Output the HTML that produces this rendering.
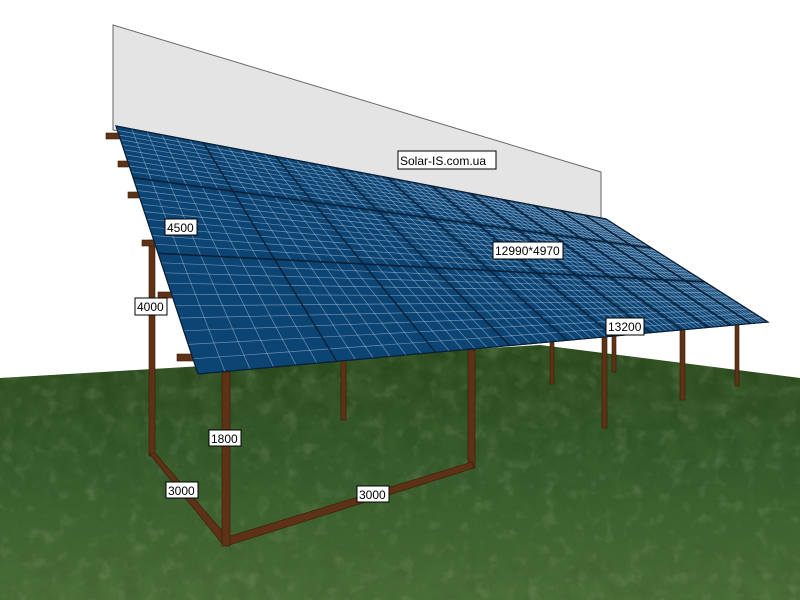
<!DOCTYPE html>
<html><head><meta charset="utf-8"><style>
html,body{margin:0;padding:0;background:#fff}
svg{display:block}
.lb{font-family:"Liberation Sans",sans-serif;font-size:12px;fill:#000}
</style></head><body>
<svg id="s" width="800" height="600" viewBox="0 0 800 600" xmlns="http://www.w3.org/2000/svg">
<defs>
<linearGradient id="gr" x1="0" y1="0" x2="0" y2="1">
<stop offset="0" stop-color="#29481b"/><stop offset="0.5" stop-color="#35592a"/><stop offset="1" stop-color="#4c6f38"/>
</linearGradient>
<filter id="nz" x="0" y="0" width="100%" height="100%">
<feTurbulence type="fractalNoise" baseFrequency="0.07" numOctaves="3" seed="4"/>
<feColorMatrix type="matrix" values="0 0 0 0 0.55  0 0 0 0 0.65  0 0 0 0 0.45  0 0 0 1.8 -0.95"/>
<feComposite in2="SourceGraphic" operator="in"/>
</filter>
<filter id="nz2" x="0" y="0" width="100%" height="100%">
<feTurbulence type="fractalNoise" baseFrequency="0.05" numOctaves="3" seed="9"/>
<feColorMatrix type="matrix" values="0 0 0 0 0.05  0 0 0 0 0.12  0 0 0 0 0.03  0 0 0 1.6 -0.5"/>
<feComposite in2="SourceGraphic" operator="in"/>
</filter>
</defs>
<rect width="800" height="600" fill="#fff"/>
<polygon points="0,378 170,368 540,345 800,378 800,600 0,600" fill="url(#gr)"/>
<polygon points="0,378 170,368 540,345 800,378 800,600 0,600" fill="#000" filter="url(#nz2)" opacity="0.8"/>
<polygon points="0,378 170,368 540,345 800,378 800,600 0,600" fill="#000" filter="url(#nz)" opacity="0.22"/>
<polygon points="113,25 601,172 601,222 113,130" fill="#e4e4e4" stroke="#666" stroke-width="1"/>
<g id="posts" fill="#5e3216" stroke="#3a1c08" stroke-width="0.6">
<rect x="341" y="360" width="5" height="60"/>
<rect x="550" y="340" width="4" height="44"/>
<rect x="612" y="336" width="4" height="36"/>
<rect x="680" y="328" width="5" height="72"/>
<rect x="735" y="324" width="4" height="62"/>
<rect x="602" y="330" width="5" height="98"/>
<rect x="468" y="350" width="7" height="118"/>
<rect x="149" y="240" width="6" height="216"/>
<polygon points="149,453 155,453 230,540 224,546"/>
<polygon points="224,538 472,462 474,468 226,546"/>
<rect x="222" y="372" width="8" height="174"/>
<rect x="106" y="133" width="14" height="6"/>
<rect x="118" y="161" width="14" height="6"/>
<rect x="128" y="192" width="14" height="6"/>
<rect x="142" y="240" width="16" height="6"/>
<rect x="158" y="292" width="16" height="6"/>
<rect x="177" y="354" width="18" height="7"/>
</g>
<g id="panel"></g>
<g>
<rect x="165" y="219" width="32" height="16" fill="#fff" stroke="#000"/><text class="lb" x="167" y="232">4500</text>
<rect x="135" y="298" width="32" height="17" fill="#fff" stroke="#000"/><text class="lb" x="137" y="311">4000</text>
<rect x="209" y="430" width="32" height="16" fill="#fff" stroke="#000"/><text class="lb" x="211" y="443">1800</text>
<rect x="166" y="482" width="32" height="16" fill="#fff" stroke="#000"/><text class="lb" x="168" y="495">3000</text>
<rect x="357" y="486" width="32" height="16" fill="#fff" stroke="#000"/><text class="lb" x="359" y="499">3000</text>
<rect x="493" y="242" width="70" height="17" fill="#fff" stroke="#000"/><text class="lb" x="495" y="255">12990*4970</text>
<rect x="606" y="318" width="38" height="17" fill="#fff" stroke="#000"/><text class="lb" x="608" y="331">13200</text>
<rect x="398" y="151" width="98" height="18" fill="#fff" stroke="#000"/><text class="lb" x="400" y="165">Solar-IS.com.ua</text>
</g>
</svg>
<script>
(function(){
var P=[[116,126],[606,219],[768,322],[198,374]];
var x0=P[0][0],y0=P[0][1],x1=P[1][0],y1=P[1][1],x2=P[2][0],y2=P[2][1],x3=P[3][0],y3=P[3][1];
var dx1=x1-x2,dx2=x3-x2,dx3=x0-x1+x2-x3,dy1=y1-y2,dy2=y3-y2,dy3=y0-y1+y2-y3;
var den=dx1*dy2-dx2*dy1;
var g=(dx3*dy2-dx2*dy3)/den,h=(dx1*dy3-dx3*dy1)/den;
var a=x1-x0+g*x1,b=x3-x0+h*x3,c=x0,d=y1-y0+g*y1,e=y3-y0+h*y3,f=y0;
function m(u,v){var w=g*u+h*v+1;return [((a*u+b*v+c)/w).toFixed(1),((d*u+e*v+f)/w).toFixed(1)];}
var NS="http://www.w3.org/2000/svg",G=document.getElementById("panel");
function poly(pts,fill,stroke,sw){var p=document.createElementNS(NS,"polygon");p.setAttribute("points",pts.map(function(q){return q.join(",")}).join(" "));p.setAttribute("fill",fill);p.setAttribute("stroke",stroke);p.setAttribute("stroke-width",sw);G.appendChild(p);}
function line(p,q,col,sw,op){var l=document.createElementNS(NS,"line");l.setAttribute("x1",p[0]);l.setAttribute("y1",p[1]);l.setAttribute("x2",q[0]);l.setAttribute("y2",q[1]);l.setAttribute("stroke",col);l.setAttribute("stroke-width",sw);if(op)l.setAttribute("stroke-opacity",op);G.appendChild(l);}
poly([m(0,0),m(1,0),m(1,1),m(0,1)],"#0c4474","#0a2440",1);
var NC=11,NR=3,CC=6,CR=10;
for(var i=1;i<NC*CC;i++){if(i%CC==0)continue;var u=i/(NC*CC);line(m(u,0),m(u,1),"#c8dcef",0.7,0.5);}
for(var j=1;j<NR*CR;j++){if(j%CR==0)continue;var v=j/(NR*CR);line(m(0,v),m(1,v),"#c8dcef",0.7,0.5);}
for(var i=1;i<NC;i++){var u=i/NC;line(m(u,0),m(u,1),"#0a2036",1.4);}
for(var j=1;j<NR;j++){var v=j/NR;line(m(0,v),m(1,v),"#0a2036",1.6);}
poly([m(0,0),m(1,0),m(1,1),m(0,1)],"none","#0a2036",1.2);
})();
</script>
</body></html>
